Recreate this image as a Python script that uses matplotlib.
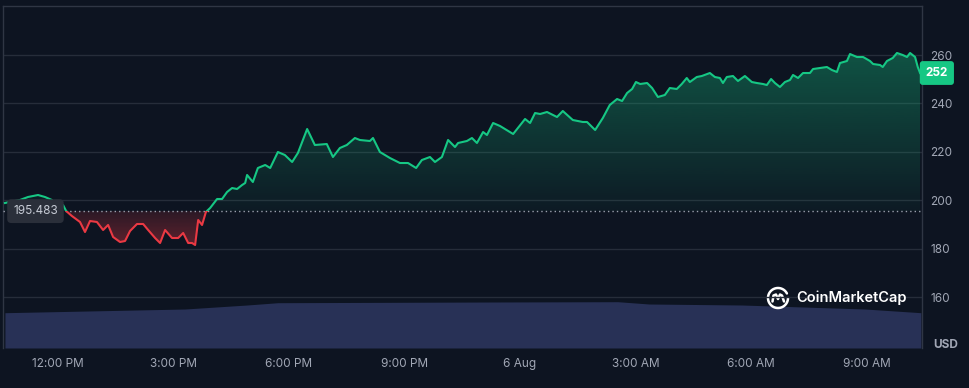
import numpy as np
import matplotlib
matplotlib.use("Agg")
import matplotlib.pyplot as plt
from matplotlib.patches import Rectangle
from matplotlib.colors import LinearSegmentedColormap
from matplotlib.path import Path

plt.rcParams['font.family'] = ['Inter', 'DejaVu Sans']

# ---- data (hours since 00:00 on Aug 5, price in USD) ----
hours = [10.62, 11.01, 11.22, 11.48, 11.66, 11.84, 11.97, 12.13, 12.21, 12.36,
         12.57, 12.70, 12.83, 13.01, 13.17, 13.30, 13.43, 13.61, 13.74, 13.87,
         14.05, 14.21, 14.34, 14.52, 14.65, 14.78, 14.96, 15.12, 15.25, 15.38,
         15.48, 15.56, 15.64, 15.74, 15.84, 15.95, 16.13, 16.26, 16.39, 16.52,
         16.65, 16.78, 16.86, 16.91, 17.06, 17.19, 17.38, 17.51, 17.71, 17.89,
         18.08, 18.23, 18.47, 18.67, 18.98, 19.14, 19.32, 19.50, 19.71, 19.84,
         20.10, 20.18, 20.36, 20.62, 20.88, 21.09, 21.30, 21.45, 21.66, 21.79,
         21.97, 22.13, 22.31, 22.39, 22.62, 22.75, 22.88, 23.04, 23.14, 23.30,
         23.48, 23.82, 24.13, 24.26, 24.39, 24.52, 24.70, 24.96, 25.11, 25.37,
         25.63, 25.74, 25.95, 26.15, 26.33, 26.52, 26.65, 26.78, 26.91, 27.01,
         27.12, 27.30, 27.43, 27.58, 27.76, 27.89, 28.07, 28.20, 28.33, 28.41,
         28.59, 28.72, 28.93, 29.06, 29.19, 29.27, 29.37, 29.53, 29.66, 29.84,
         30.02, 30.15, 30.31, 30.41, 30.52, 30.62, 30.75, 30.88, 31.01, 31.09,
         31.22, 31.35, 31.53, 31.61, 31.79, 31.97, 32.10, 32.23, 32.31, 32.49,
         32.57, 32.75, 32.91, 33.09, 33.17, 33.35, 33.42, 33.53, 33.68, 33.79,
         33.94, 34.05, 34.13, 34.26, 34.33, 34.39]
price = [198.85, 200.09, 201.33, 202.15, 201.33, 200.09, 196.37, 198.02, 195.54, 193.47,
         191.00, 186.86, 191.41, 191.00, 187.69, 189.76, 184.80, 182.73, 183.14, 187.28,
         190.17, 190.17, 187.69, 184.38, 182.32, 187.69, 184.38, 184.38, 186.45, 182.32,
         182.32, 181.49, 191.82, 189.76, 195.13, 196.78, 200.50, 200.50, 203.39, 205.04,
         204.63, 206.28, 207.11, 210.42, 207.52, 213.31, 214.55, 213.31, 219.92, 218.68,
         215.79, 219.51, 229.42, 222.81, 223.22, 217.85, 221.57, 222.81, 225.70, 224.88,
         224.47, 225.70, 219.92, 217.44, 215.37, 215.37, 213.31, 216.61, 217.85, 215.79,
         217.85, 224.88, 221.98, 223.64, 224.47, 225.70, 223.64, 228.18, 226.94, 231.90,
         230.66, 227.36, 233.56, 231.90, 236.03, 235.62, 236.45, 234.38, 236.86, 233.14,
         232.32, 232.32, 229.01, 233.97, 239.34, 241.82, 240.99, 244.30, 245.95, 248.84,
         248.02, 248.43, 246.36, 242.65, 243.47, 246.36, 245.95, 248.02, 250.50, 248.84,
         250.91, 251.32, 252.56, 250.91, 250.50, 248.43, 250.91, 251.32, 249.26, 251.32,
         248.84, 248.43, 248.02, 247.60, 250.08, 248.43, 246.78, 248.84, 249.67, 251.74,
         250.50, 252.56, 252.56, 254.21, 254.63, 255.04, 253.80, 252.98, 256.69, 257.52,
         260.41, 259.17, 259.17, 257.52, 256.28, 255.87, 255.04, 257.52, 258.76, 260.83,
         260.00, 259.17, 260.83, 259.17, 255.04, 252.56]
baseline = 195.483
last_label = "252"

vol_hours = [10.62, 15.30, 16.91, 17.71, 23.32, 26.54, 27.35, 29.76, 32.96, 34.41]
volume = [353, 390, 430, 453, 460, 463, 440, 430, 390, 353]  # millions USD (approx.)

xtick_pos = [12, 15, 18, 21, 24, 27, 30, 33]
xtick_labels = ["12:00 PM", "3:00 PM", "6:00 PM", "9:00 PM", "6 Aug", "3:00 AM", "6:00 AM", "9:00 AM"]
ytick_pos = [160, 180, 200, 220, 240, 260]

# ---- style ----
BG = '#0d1421'
GRID = '#262d3a'
TXT = '#a1a7b5'
GREEN = '#16c784'
RED = '#ea3943'
VOL = '#283156'

W, H = 969, 388
fig = plt.figure(figsize=(W / 100, H / 100), dpi=100, facecolor=BG)
left, right, top, bottom = 3, 922, 6, 348
ax = fig.add_axes([left / W, 1 - bottom / H, (right - left) / W, (bottom - top) / H])

x = np.array(hours)
y = np.array(price)
xmin, xmax = 10.57, 34.44
ymin, ymax = 138.93, 280.25

# volume on twin axis (drawn beneath)
axv = ax.twinx()
axv.fill_between(vol_hours, 0, volume, color=VOL, lw=0, zorder=1)
axv.set_ylim(0, 3420)
axv.set_yticks([])
for s in axv.spines.values():
    s.set_visible(False)
axv.set_zorder(0)
ax.set_zorder(1)
ax.patch.set_visible(False)
axv.patch.set_facecolor(BG)
axv.patch.set_visible(True)

# grid
for t in ytick_pos:
    ax.axhline(t, color=GRID, lw=1, zorder=0)

grad = np.linspace(0, 1, 256).reshape(-1, 1)

# green gradient fill
poly_g = ax.fill_between(x, baseline, y, where=y >= baseline, interpolate=True,
                         color='none', lw=0)
gcmap = LinearSegmentedColormap.from_list(
    'g', [(0, (22/255, 199/255, 132/255, 0.04)), (1, (22/255, 199/255, 132/255, 0.36))])
im = ax.imshow(grad, extent=[xmin, xmax, baseline, 262], origin='lower',
               cmap=gcmap, aspect='auto', zorder=2)
im.set_clip_path(Path.make_compound_path(*poly_g.get_paths()), transform=ax.transData)

# red gradient fill
poly_r = ax.fill_between(x, baseline, y, where=y <= baseline, interpolate=True,
                         color='none', lw=0)
rcmap = LinearSegmentedColormap.from_list(
    'r', [(0, (234/255, 57/255, 67/255, 0.40)), (1, (234/255, 57/255, 67/255, 0.14))])
imr = ax.imshow(grad, extent=[xmin, xmax, 180, baseline], origin='lower',
                cmap=rcmap, aspect='auto', zorder=2)
imr.set_clip_path(Path.make_compound_path(*poly_r.get_paths()), transform=ax.transData)

# price line: green above baseline, red below
lg, = ax.plot(x, y, color=GREEN, lw=1.5, zorder=4, solid_joinstyle='round')
lr, = ax.plot(x, y, color=RED, lw=1.5, zorder=4, solid_joinstyle='round')
clip_up = Rectangle((xmin, baseline), xmax - xmin, ymax - baseline, transform=ax.transData)
clip_dn = Rectangle((xmin, ymin), xmax - xmin, baseline - ymin, transform=ax.transData)
lg.set_clip_path(clip_up)
lr.set_clip_path(clip_dn)

# baseline dotted
ax.axhline(baseline, color='#9aa0ad', lw=1, ls=(0, (1, 2.2)), zorder=3)

ax.set_xlim(xmin, xmax)
ax.set_ylim(ymin, ymax)

# spines / ticks
ax.spines['bottom'].set_visible(False)
for side in ['top', 'left', 'right']:
    ax.spines[side].set_color('#2f3644')
    ax.spines[side].set_linewidth(1)
ax.yaxis.tick_right()
ax.set_yticks(ytick_pos)
ax.set_yticklabels([str(t) for t in ytick_pos])
ax.tick_params(axis='y', length=0, pad=6, labelcolor=TXT, labelsize=8.5)
ax.set_xticks(xtick_pos)
ax.set_xticklabels(xtick_labels)
ax.tick_params(axis='x', length=0, pad=7, labelcolor=TXT, labelsize=8.5)

# baseline label
ax.text(0.011, baseline, "195.483", transform=ax.get_yaxis_transform(),
        ha='left', va='center', fontsize=8.5, color='#c7ccd6', zorder=6,
        bbox=dict(boxstyle='round,pad=0.5,rounding_size=0.35', fc='#2a2f3a', ec='none'))

# last price label
ax.text(1.004, price[-1], last_label, transform=ax.get_yaxis_transform(),
        ha='left', va='center', fontsize=8.5, color='white', fontweight='bold', zorder=6,
        bbox=dict(boxstyle='round,pad=0.5,rounding_size=0.25', fc=GREEN, ec='none'),
        clip_on=False)

# USD
fig.text(946 / W, 1 - 345 / H, "USD", ha='center', va='center', fontsize=8.5,
         color=TXT, fontweight='bold')

# watermark
lx, ly = 778, 298
axl = fig.add_axes([(lx - 12) / W, 1 - (ly + 12) / H, 24 / W, 24 / H])
axl.set_xlim(-1.2, 1.2)
axl.set_ylim(-1.2, 1.2)
axl.axis('off')
th = np.linspace(0.15 * np.pi, 2.15 * np.pi * 0.93, 100)
axl.plot(np.cos(th), np.sin(th), color='white', lw=1.8, solid_capstyle='round')
axl.plot([-0.55, -0.45, -0.2, 0.0, 0.2, 0.4, 0.6],
         [-0.35, 0.25, 0.35, -0.1, 0.35, 0.25, -0.35], color='white', lw=1.8,
         solid_capstyle='round', solid_joinstyle='round')
fig.text(796 / W, 1 - 298 / H, "CoinMarketCap", ha='left', va='center',
         fontsize=10.5, color='white', fontweight='semibold')

fig.savefig("out.png", dpi=100, facecolor=BG)
